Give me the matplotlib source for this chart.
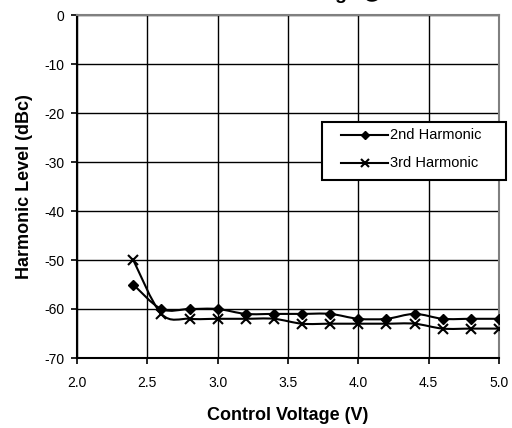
import numpy as np
import matplotlib.pyplot as plt
from matplotlib.path import Path
from matplotlib.patches import PathPatch, Rectangle
from matplotlib.lines import Line2D

plt.rcParams['font.family'] = ['Liberation Sans', 'DejaVu Sans']

# Data
voltage = [2.4, 2.6, 2.8, 3.0, 3.2, 3.4, 3.6, 3.8, 4.0, 4.2, 4.4, 4.6, 4.8, 5.0]
harm2 = [-55, -60, -60, -60, -61, -61, -61, -61, -62, -62, -61, -62, -62, -62]
harm3 = [-50, -61, -62, -62, -62, -62, -63, -63, -63, -63, -63, -64, -64, -64]
series_names = ['2nd Harmonic', '3rd Harmonic']
x_ticks = [2.0, 2.5, 3.0, 3.5, 4.0, 4.5, 5.0]
y_ticks = [0, -10, -20, -30, -40, -50, -60, -70]

W, H = 512, 428


def smooth_path(xs, ys, tension=1/6):
    # Catmull-Rom style bezier segments, like a spreadsheet "smoothed line"
    pts = np.column_stack([np.asarray(xs, float), np.asarray(ys, float)])
    verts = [pts[0]]
    codes = [Path.MOVETO]
    n = len(pts)
    for i in range(n - 1):
        p0 = pts[i - 1] if i > 0 else pts[i]
        p1 = pts[i]
        p2 = pts[i + 1]
        p3 = pts[i + 2] if i + 2 < n else pts[i + 1]
        verts += [p1 + (p2 - p0) * tension, p2 - (p3 - p1) * tension, p2]
        codes += [Path.CURVE4] * 3
    return Path(verts, codes)


fig = plt.figure(figsize=(W / 100, H / 100), dpi=100)
ax = fig.add_axes([77 / W, 1 - 358 / H, 422 / W, 343 / H])

ax.set_xlim(2.0, 5.0)
ax.set_ylim(-70, 0)
ax.set_xticks(x_ticks)
ax.set_xticklabels([f'{v:.1f}' for v in x_ticks])
ax.set_yticks(y_ticks)
ax.set_yticklabels([str(v) for v in y_ticks])
ax.tick_params(axis='both', labelsize=10, direction='out', length=4, width=1.2)
ax.tick_params(axis='x', pad=9)
ax.tick_params(axis='y', pad=5)
ax.grid(True, color='black', linewidth=1.0)
ax.set_axisbelow(True)

for side in ['left', 'bottom']:
    ax.spines[side].set_color('black')
    ax.spines[side].set_linewidth(1.5)
for side in ['top', 'right']:
    ax.spines[side].set_color('#808080')
    ax.spines[side].set_linewidth(1.5)

for ys in (harm2, harm3):
    ax.add_patch(PathPatch(smooth_path(voltage, ys), facecolor='none',
                           edgecolor='black', linewidth=1.5, zorder=3))

ax.plot(voltage, harm2, linestyle='none', marker='D', markersize=5,
        color='black', zorder=4)
ax.plot(voltage, harm3, linestyle='none', marker='x', markersize=7,
        markeredgewidth=1.5, color='black', zorder=4)

ax.set_xlabel('Control Voltage (V)', fontsize=13, fontweight='bold', labelpad=12)
ax.set_ylabel('Harmonic Level (dBc)', fontsize=13, fontweight='bold', labelpad=8)

# legend box drawn by hand (it sticks out past the plot area)
fig.patches.append(Rectangle((322 / W, 1 - 180 / H), 184 / W, 58 / H,
                             transform=fig.transFigure, facecolor='white',
                             edgecolor='black', linewidth=1.5, zorder=5))
rows = [135, 163]
markers = [dict(marker='D', markersize=4), dict(marker='x', markersize=6, markeredgewidth=1.5)]
for name, row, mk in zip(series_names, rows, markers):
    yf = 1 - row / H
    fig.lines.append(Line2D([341 / W, 388 / W], [yf, yf], transform=fig.transFigure,
                            color='black', linewidth=1.5, zorder=6))
    fig.lines.append(Line2D([364.5 / W], [yf], transform=fig.transFigure,
                            color='black', linestyle='none', zorder=6, **mk))
    fig.text(390 / W, yf, name, fontsize=10.5, va='center', ha='left', zorder=6)

fig.text(0.53, 1 + 1 / H, 'Harmonic Level vs. Voltage @ 3GHz', ha='center',
         va='baseline', fontsize=14, fontweight='bold')

fig.savefig('out.png', dpi=100)
